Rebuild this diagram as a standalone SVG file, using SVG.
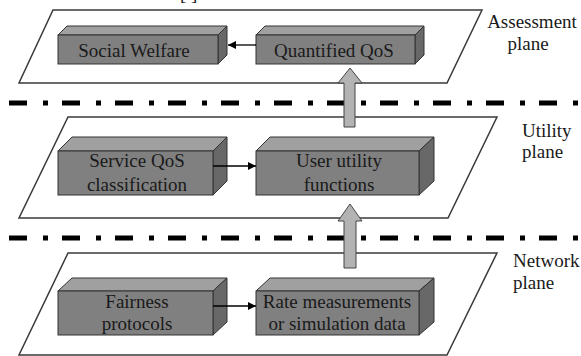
<svg xmlns="http://www.w3.org/2000/svg" width="581" height="356" viewBox="0 0 581 356" font-family="Liberation Serif, Times New Roman, serif" font-size="19">
<defs>
<style>
.plane{fill:#fff;stroke:#3a3a3a;stroke-width:1.5}
.sep{stroke:#000;stroke-width:5;stroke-dasharray:18 16 5 14;fill:none}
.front{fill:#808080;stroke:#333;stroke-width:1}
.top{fill:#a0a0a0;stroke:#333;stroke-width:1}
.side{fill:#686868;stroke:#333;stroke-width:1}
text{fill:#1a1a1a}
.m{text-anchor:middle}
.conn{stroke:#000;stroke-width:1.3;fill:none}
.block{fill:#b3b3b3;stroke:#444;stroke-width:1}
</style>
<marker id="ah" viewBox="0 0 10 10" refX="10" refY="5" markerWidth="8" markerHeight="8" markerUnits="userSpaceOnUse" orient="auto">
<path d="M0,0 L10,5 L0,10 z" fill="#000"/>
</marker>
</defs>
<rect width="581" height="356" fill="#fff"/>
<text x="180" y="0">[ ]</text>
<g id="planes">
<polygon id="assessment-plane" class="plane" points="53,10 482,10 447,83 19,83"/>
<polygon id="utility-plane" class="plane" points="68,117 497,117 448,218 19,218"/>
<polygon id="network-plane" class="plane" points="68,253 497,253 447,355 19,355"/>
</g>
<g id="separators">
<line class="sep" x1="9" y1="103" x2="581" y2="103"/>
<line class="sep" x1="9" y1="238" x2="581" y2="238"/>
</g>
<g id="social-welfare">
<polygon class="top" points="58,35 67,26 227,26 218,35"/>
<polygon class="side" points="218,35 227,26 227,55 218,64"/>
<rect class="front" x="58" y="35" width="160" height="29"/>
<text class="m" x="134" y="57">Social Welfare</text>
</g>
<g id="quantified-qos">
<polygon class="top" points="256,35 265,26 424,26 415,35"/>
<polygon class="side" points="415,35 424,26 424,55 415,64"/>
<rect class="front" x="256" y="35" width="159" height="29"/>
<text class="m" x="334" y="57">Quantified QoS</text>
</g>
<g id="service-qos">
<polygon class="top" points="58,151 72,137 227,137 213,151"/>
<polygon class="side" points="213,151 227,137 227,181 213,195"/>
<rect class="front" x="58" y="151" width="155" height="44"/>
<text class="m" x="137" y="167">Service QoS</text>
<text class="m" x="137" y="191">classification</text>
</g>
<g id="user-utility">
<polygon class="top" points="256,151 270,137 434,137 419,151"/>
<polygon class="side" points="419,151 434,137 434,181 419,195"/>
<rect class="front" x="256" y="151" width="163" height="44"/>
<text class="m" x="339" y="167">User utility</text>
<text class="m" x="339" y="191">functions</text>
</g>
<g id="fairness">
<polygon class="top" points="58,291 72,278 227,278 213,291"/>
<polygon class="side" points="213,291 227,278 227,322 213,335"/>
<rect class="front" x="58" y="291" width="155" height="44"/>
<text class="m" x="137" y="308">Fairness</text>
<text class="m" x="137" y="330">protocols</text>
</g>
<g id="rate-measurements">
<polygon class="top" points="256,291 270,278 434,278 419,291"/>
<polygon class="side" points="419,291 434,278 434,322 419,335"/>
<rect class="front" x="256" y="291" width="163" height="44"/>
<text class="m" x="337" y="308">Rate measurements</text>
<text class="m" x="337" y="330">or simulation data</text>
</g>
<g id="connectors">
<line class="conn" x1="256" y1="45" x2="228" y2="45" marker-end="url(#ah)"/>
<line class="conn" x1="213" y1="166" x2="256" y2="166" marker-end="url(#ah)"/>
<line class="conn" x1="213" y1="306" x2="256" y2="306" marker-end="url(#ah)"/>
<polygon class="block" points="350,68 362,83 355,83 355,127 344,127 344,83 338,83"/>
<polygon class="block" points="350,204 362,221 356,221 356,268 344,268 344,221 338,221"/>
</g>
<g id="labels">
<text class="m" x="532" y="28">Assessment</text>
<text class="m" x="528" y="50">plane</text>
<text x="522" y="137">Utility</text>
<text x="522" y="158">plane</text>
<text x="513" y="267">Network</text>
<text x="513" y="289">plane</text>
</g>
</svg>
